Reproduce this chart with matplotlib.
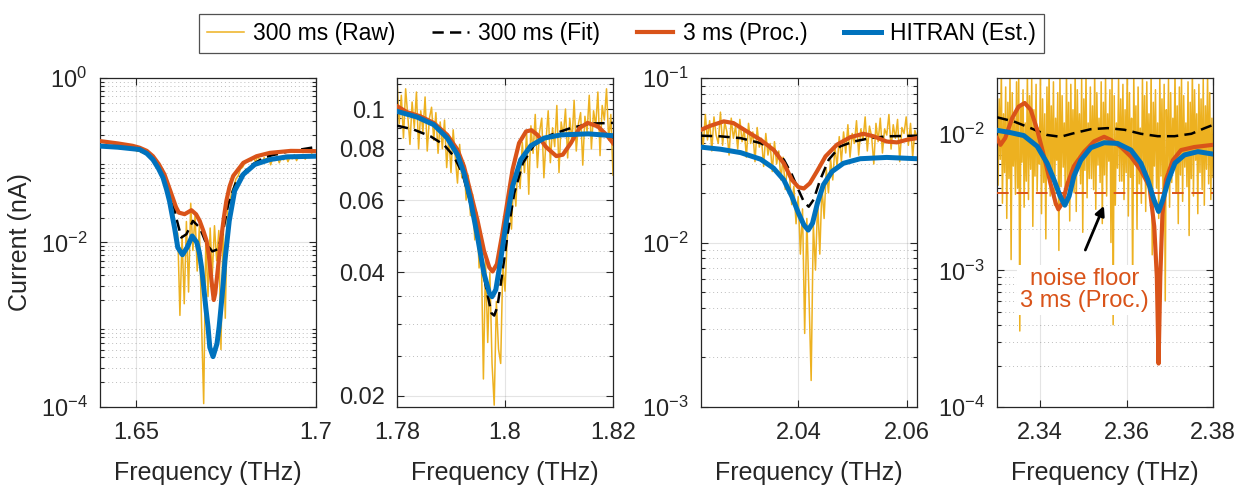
import numpy as np
import matplotlib
matplotlib.use("Agg")
import matplotlib.pyplot as plt
from matplotlib.ticker import FixedLocator, NullFormatter, FormatStrFormatter

plt.rcParams['font.family'] = ['Liberation Sans', 'DejaVu Sans']
plt.rcParams['mathtext.default'] = 'regular'

C_RAW = '#EDB120'
C_FIT = 'black'
C_PROC = '#D95319'
C_HIT = '#0072BD'
C_AX = '#262626'

# ------------------------------------------------------------------ #
# Panel 1 : 1.64 - 1.70 THz                                            #
# ------------------------------------------------------------------ #
p1_xlim = (1.64, 1.70)
p1_raw = [0.150, 0.145, 0.152, 0.143, 0.149, 0.140, 0.147, 0.144, 0.150, 0.141,
          0.146, 0.139, 0.145, 0.138, 0.143, 0.136, 0.140, 0.128, 0.136, 0.124,
          0.131, 0.118, 0.125, 0.108, 0.115, 0.098, 0.094, 0.080, 0.079, 0.062,
          0.058, 0.041, 0.038, 0.026, 0.024, 0.0145, 0.013, 0.0013, 0.012, 0.0018,
          0.018, 0.0025, 0.030, 0.008, 0.022, 0.0045, 0.016, 0.0011, 0.00011, 0.012,
          0.0022, 0.015, 0.004, 0.016, 0.006, 0.014, 0.0005, 0.018, 0.0012, 0.026,
          0.030, 0.042, 0.048, 0.060, 0.065, 0.078, 0.082, 0.092, 0.096,
          0.104, 0.098, 0.110, 0.095, 0.112, 0.100, 0.091, 0.108, 0.097, 0.114,
          0.088, 0.106, 0.099, 0.113, 0.093, 0.109, 0.101, 0.115, 0.096, 0.110,
          0.104, 0.117, 0.099, 0.112, 0.106, 0.118, 0.103, 0.114, 0.108, 0.120,
          0.110, 0.116]
p1_fit_x = [1.64, 1.6450, 1.6490, 1.6510, 1.6530, 1.6550, 1.6570, 1.6585, 1.6598, 1.6614,
            1.6626, 1.6640, 1.6658, 1.6677, 1.6696, 1.6712, 1.6728, 1.6742, 1.6756, 1.6779,
            1.6816, 1.6860, 1.6920, 1.70]
p1_fit_y = [0.148, 0.142, 0.137, 0.132, 0.120, 0.103, 0.081, 0.057, 0.0385, 0.0183,
            0.0115, 0.0126, 0.0183, 0.0152, 0.0095, 0.0078, 0.0083, 0.0138, 0.029, 0.056,
            0.085, 0.110, 0.127, 0.145]
p1_proc_x = [1.64, 1.6450, 1.6490, 1.6510, 1.6530, 1.6547, 1.6563, 1.6579, 1.6591, 1.6602,
             1.6611, 1.6619, 1.6635, 1.6654, 1.6667, 1.6677, 1.6688, 1.6696, 1.6702, 1.6707,
             1.6712, 1.6716, 1.6720, 1.6725, 1.6731, 1.6737, 1.6744, 1.6751, 1.6760, 1.6770,
             1.6798, 1.6835, 1.6872, 1.6930, 1.70]
p1_proc_y = [0.171, 0.160, 0.150, 0.142, 0.130, 0.112, 0.090, 0.0673, 0.048, 0.035,
             0.027, 0.0231, 0.0221, 0.0247, 0.022, 0.0183, 0.0135, 0.0105, 0.0072, 0.0045,
             0.0028, 0.0020, 0.0024, 0.0038, 0.0068, 0.0115, 0.020, 0.032, 0.048, 0.0644,
             0.093, 0.112, 0.123, 0.130, 0.129]
p1_hit_x = [1.64, 1.6450, 1.6490, 1.6510, 1.6530, 1.6547, 1.6562, 1.6575, 1.6585, 1.6593,
            1.6600, 1.6607, 1.6616, 1.6629, 1.6642, 1.6656, 1.6669, 1.6676, 1.6682, 1.6688,
            1.6694, 1.6700, 1.6705, 1.6714, 1.6725, 1.6731, 1.6736, 1.6742, 1.6747, 1.6759,
            1.6774, 1.6798, 1.6830, 1.6872, 1.6920, 1.70]
p1_hit_y = [0.1486, 0.144, 0.138, 0.135, 0.121, 0.102, 0.080, 0.0614, 0.044, 0.032,
            0.022, 0.0152, 0.0087, 0.0071, 0.0087, 0.0120, 0.010, 0.0075, 0.0050, 0.0029,
            0.0016, 0.00095, 0.00053, 0.00041, 0.00059, 0.00095, 0.0016, 0.0031, 0.0060, 0.0183,
            0.0425, 0.0673, 0.089, 0.102, 0.110, 0.112]

# ------------------------------------------------------------------ #
# Panel 2 : 1.78 - 1.82 THz                                            #
# ------------------------------------------------------------------ #
p2_xlim = (1.78, 1.82)
p2_raw = [0.118, 0.092, 0.108, 0.085, 0.112, 0.096, 0.082, 0.104, 0.090, 0.110,
          0.080, 0.099, 0.088, 0.107, 0.079, 0.095, 0.101, 0.084, 0.098, 0.078,
          0.093, 0.080, 0.094, 0.072, 0.086, 0.070, 0.089, 0.076, 0.066, 0.082,
          0.068, 0.074, 0.060, 0.069, 0.055, 0.062, 0.048, 0.056, 0.041, 0.046,
          0.022, 0.043, 0.027, 0.040, 0.024, 0.019, 0.034, 0.026, 0.024, 0.042,
          0.036, 0.048, 0.060, 0.051, 0.068, 0.058, 0.074, 0.064, 0.083, 0.070,
          0.088, 0.062, 0.091, 0.078, 0.097, 0.072, 0.088, 0.095, 0.068, 0.084,
          0.099, 0.074, 0.090, 0.081, 0.102, 0.070, 0.093, 0.086, 0.100, 0.076,
          0.095, 0.083, 0.105, 0.079, 0.092, 0.098, 0.073, 0.096, 0.088, 0.108,
          0.080, 0.099, 0.091, 0.110, 0.077, 0.102, 0.094, 0.112, 0.084, 0.097,
          0.069]
p2_fit_x = [1.78, 1.7831, 1.7862, 1.7887, 1.7905, 1.7921, 1.7933, 1.7946, 1.7958, 1.7967,
            1.7975, 1.7980, 1.7986, 1.7995, 1.8005, 1.8017, 1.8033, 1.8054, 1.8085, 1.8122,
            1.8160, 1.82]
p2_fit_y = [0.0911, 0.0891, 0.0858, 0.0818, 0.0768, 0.0698, 0.0612, 0.0508, 0.0411, 0.0356,
            0.0318, 0.0314, 0.0330, 0.0398, 0.0497, 0.0623, 0.0738, 0.0818, 0.0865, 0.0899,
            0.0922, 0.0925]
p2_proc_x = [1.78, 1.7819, 1.7843, 1.7868, 1.7893, 1.7912, 1.7924, 1.7936, 1.7949, 1.7961,
             1.7971, 1.7977, 1.7985, 1.7995, 1.8005, 1.8014, 1.8026, 1.8039, 1.8049, 1.8060,
             1.8076, 1.8095, 1.8107, 1.8122, 1.8138, 1.8153, 1.8172, 1.8188, 1.82]
p2_proc_y = [0.1016, 0.0982, 0.0960, 0.0925, 0.0865, 0.0796, 0.0725, 0.0628, 0.0536, 0.0452,
             0.0411, 0.0402, 0.0419, 0.0497, 0.0601, 0.0712, 0.0826, 0.0882, 0.0888, 0.0865,
             0.0808, 0.0768, 0.0774, 0.0826, 0.0899, 0.0925, 0.0907, 0.0865, 0.0826]
p2_hit_x = [1.78, 1.7837, 1.7868, 1.7893, 1.7912, 1.7924, 1.7936, 1.7949, 1.7961, 1.7971,
            1.7976, 1.7983, 1.7992, 1.8002, 1.8014, 1.8029, 1.8048, 1.8073, 1.8104, 1.8154, 1.82]
p2_hit_y = [0.0987, 0.0956, 0.0916, 0.0850, 0.0774, 0.0698, 0.0601, 0.0489, 0.0398, 0.0356,
            0.0349, 0.0363, 0.0429, 0.0527, 0.0648, 0.0752, 0.0814, 0.0850, 0.0865, 0.0870, 0.0861]

# ------------------------------------------------------------------ #
# Panel 3 : 2.022 - 2.062 THz                                          #
# ------------------------------------------------------------------ #
p3_xlim = (2.022, 2.0619)
p3_raw = [0.052, 0.038, 0.060, 0.042, 0.055, 0.036, 0.058, 0.045, 0.040, 0.062,
          0.039, 0.054, 0.047, 0.034, 0.057, 0.043, 0.051, 0.037, 0.056, 0.041,
          0.049, 0.033, 0.053, 0.040, 0.047, 0.031, 0.050, 0.038, 0.043, 0.029,
          0.046, 0.034, 0.040, 0.027, 0.041, 0.030, 0.036, 0.024, 0.033, 0.021,
          0.029, 0.025, 0.017, 0.022, 0.013, 0.019, 0.0085, 0.016, 0.0028, 0.014,
          0.0047, 0.00145, 0.013, 0.0068, 0.018, 0.0085, 0.022, 0.014, 0.028, 0.020,
          0.032, 0.024, 0.038, 0.029, 0.044, 0.031, 0.047, 0.035, 0.052, 0.033,
          0.046, 0.040, 0.055, 0.034, 0.049, 0.042, 0.058, 0.036, 0.051, 0.044,
          0.030, 0.053, 0.041, 0.057, 0.035, 0.049, 0.045, 0.060, 0.037, 0.052,
          0.043, 0.056, 0.031, 0.050, 0.046, 0.058, 0.039, 0.053, 0.033, 0.048,
          0.044]
p3_fit_x = [2.022, 2.0256, 2.0293, 2.0330, 2.0354, 2.0373, 2.0388, 2.0400, 2.0410, 2.0419,
            2.0428, 2.0440, 2.0456, 2.0477, 2.0502, 2.0533, 2.0563, 2.0619]
p3_fit_y = [0.0446, 0.0442, 0.0431, 0.0402, 0.0366, 0.0319, 0.0258, 0.0209, 0.0177, 0.0165,
            0.0182, 0.024, 0.0319, 0.0384, 0.0411, 0.0431, 0.0442, 0.0446]
p3_proc_x = [2.022, 2.0237, 2.0262, 2.0280, 2.0305, 2.0330, 2.0354, 2.0373, 2.0388, 2.0400,
             2.0410, 2.0421, 2.0434, 2.0450, 2.0471, 2.0496, 2.0520, 2.0539, 2.0563, 2.0582,
             2.0600, 2.0619]
p3_proc_y = [0.0484, 0.0512, 0.0545, 0.0532, 0.0473, 0.0421, 0.0366, 0.0303, 0.024, 0.0217,
             0.0213, 0.0229, 0.027, 0.0334, 0.0393, 0.0437, 0.0458, 0.0442, 0.0411, 0.0406,
             0.0421, 0.0431]
p3_hit_x = [2.022, 2.0256, 2.0293, 2.0330, 2.0354, 2.0373, 2.0388, 2.0400, 2.0410, 2.0418,
            2.0426, 2.0435, 2.0446, 2.0462, 2.0483, 2.0514, 2.0563, 2.0619]
p3_hit_y = [0.038, 0.0369, 0.0352, 0.0321, 0.0283, 0.024, 0.019, 0.0151, 0.0128, 0.0119,
            0.0131, 0.0173, 0.0224, 0.027, 0.0303, 0.0323, 0.0329, 0.0323]

# ------------------------------------------------------------------ #
# Panel 4 : 2.33 - 2.38 THz                                            #
# ------------------------------------------------------------------ #
p4_xlim = (2.33, 2.38)
p4_raw = [0.026, 0.0042, 0.018, 0.0065, 0.029, 0.0031, 0.014, 0.0052, 0.022, 0.0024,
          0.017, 0.0047, 0.027, 0.0012, 0.020, 0.0058, 0.013, 0.0036, 0.024, 0.0040,
          0.030, 0.00036, 0.016, 0.0062, 0.021, 0.0029, 0.012, 0.0045, 0.028, 0.0033,
          0.019, 0.0055, 0.025, 0.0021, 0.015, 0.0049, 0.023, 0.0038, 0.011, 0.0060,
          0.027, 0.0026, 0.018, 0.0044, 0.014, 0.0017, 0.022, 0.0053, 0.029, 0.0035,
          0.016, 0.0048, 0.024, 0.0030, 0.013, 0.0064, 0.020, 0.0014, 0.026, 0.0041,
          0.019, 0.0057, 0.012, 0.0032, 0.028, 0.0046, 0.017, 0.0023, 0.023, 0.0051,
          0.015, 0.0037, 0.030, 0.0027, 0.021, 0.0061, 0.014, 0.0043, 0.025, 0.0019,
          0.018, 0.0054, 0.027, 0.0034, 0.012, 0.0047, 0.022, 0.0047, 0.016, 0.0039,
          0.029, 0.0028, 0.020, 0.0059, 0.013, 0.0044, 0.024, 0.0022, 0.017, 0.0050,
          0.026, 0.0035, 0.014, 0.0063, 0.021, 0.0016, 0.028, 0.0004, 0.019, 0.0030,
          0.012, 0.0056, 0.025, 0.0045, 0.018, 0.0045, 0.023, 0.0033, 0.015, 0.0052,
          0.030, 0.0025, 0.020, 0.0048, 0.013, 0.0007, 0.027, 0.0060, 0.016, 0.0020,
          0.022, 0.0043, 0.011, 0.0031, 0.026, 0.0055, 0.019, 0.0027, 0.024, 0.0046,
          0.014, 0.0036, 0.029, 0.0013, 0.017, 0.0058, 0.021, 0.0040, 0.012, 0.0024,
          0.027, 0.0049, 0.018, 0.0034, 0.023, 0.0006, 0.015, 0.0053, 0.025, 0.0029,
          0.020, 0.0044, 0.013, 0.0061, 0.028, 0.0037, 0.016, 0.0022, 0.022, 0.0050,
          0.026, 0.0032, 0.019, 0.0057, 0.012, 0.0041, 0.024, 0.0018, 0.017, 0.0047,
          0.029, 0.0035, 0.021, 0.0064, 0.014, 0.0026, 0.023, 0.0052, 0.018, 0.0039,
          0.025, 0.0030, 0.016, 0.0055, 0.027, 0.0043, 0.020, 0.0033, 0.013, 0.0048]
p4_fit_x = [2.33, 2.3339, 2.3378, 2.3416, 2.3447, 2.3478, 2.3517, 2.3556, 2.3595, 2.3633,
            2.3672, 2.3711, 2.3750, 2.3781, 2.38]
p4_fit_y = [0.0132, 0.0123, 0.0110, 0.0098, 0.0095, 0.0101, 0.0108, 0.0110, 0.0107, 0.0100,
            0.0096, 0.0096, 0.0100, 0.0110, 0.0116]
p4_proc_x = [2.33, 2.3308, 2.3319, 2.3335, 2.3350, 2.3364, 2.3378, 2.3393, 2.3409, 2.3424,
             2.3436, 2.3442, 2.3451, 2.3463, 2.3478, 2.3502, 2.3525, 2.3548, 2.3564, 2.3587,
             2.3610, 2.3633, 2.3653, 2.3664, 2.3670, 2.3674, 2.3678, 2.3683, 2.3691, 2.3707,
             2.3726, 2.3757, 2.38]
p4_proc_y = [0.0093, 0.0083, 0.0093, 0.0130, 0.0158, 0.0168, 0.0150, 0.0107, 0.0068, 0.0043,
             0.0031, 0.0028, 0.0031, 0.0043, 0.0058, 0.0074, 0.0088, 0.0095, 0.0090, 0.0080,
             0.0068, 0.0054, 0.0041, 0.0021, 0.0009, 0.000208, 0.0009, 0.0026, 0.0046, 0.0064,
             0.0076, 0.0080, 0.0083]
p4_hit_x = [2.33, 2.3331, 2.3362, 2.3393, 2.3416, 2.3432, 2.3446, 2.3457, 2.3467, 2.3478,
            2.3494, 2.3517, 2.3548, 2.3579, 2.3610, 2.3633, 2.3649, 2.3663, 2.3674, 2.3684,
            2.3697, 2.3712, 2.3734, 2.3765, 2.38]
p4_hit_y = [0.0106, 0.0102, 0.0097, 0.0081, 0.0061, 0.0046, 0.0035, 0.0030, 0.0035, 0.0049,
            0.0064, 0.0079, 0.0086, 0.0085, 0.0076, 0.0061, 0.0046, 0.0033, 0.0027, 0.0033,
            0.0046, 0.0061, 0.0070, 0.0074, 0.0071]
p4_noise_floor = 0.0037

# axis setup per panel
panels = [
    dict(xlim=p1_xlim, ylim=(1e-4, 1.0), raw=p1_raw,
         fit=(p1_fit_x, p1_fit_y), proc=(p1_proc_x, p1_proc_y), hit=(p1_hit_x, p1_hit_y),
         xticks=[1.65, 1.70], yticks=[1e-4, 1e-2, 1e0], ymin_minor=None),
    dict(xlim=p2_xlim, ylim=(0.0188, 0.119), raw=p2_raw,
         fit=(p2_fit_x, p2_fit_y), proc=(p2_proc_x, p2_proc_y), hit=(p2_hit_x, p2_hit_y),
         xticks=[1.78, 1.80, 1.82], yticks=[0.02, 0.04, 0.06, 0.08, 0.1],
         ymin_minor=np.arange(0.02, 0.12, 0.005)),
    dict(xlim=p3_xlim, ylim=(1e-3, 1e-1), raw=p3_raw,
         fit=(p3_fit_x, p3_fit_y), proc=(p3_proc_x, p3_proc_y), hit=(p3_hit_x, p3_hit_y),
         xticks=[2.04, 2.06], yticks=[1e-3, 1e-2, 1e-1], ymin_minor=None),
    dict(xlim=p4_xlim, ylim=(1e-4, 0.0256), raw=p4_raw,
         fit=(p4_fit_x, p4_fit_y), proc=(p4_proc_x, p4_proc_y), hit=(p4_hit_x, p4_hit_y),
         xticks=[2.34, 2.36, 2.38], yticks=[1e-4, 1e-3, 1e-2], ymin_minor=None),
]

lefts = [100 / 1243, 397 / 1243, 701 / 1243, 997 / 1243]
width = 216 / 1243
bottom = 1 - 407 / 494
height = 329 / 494

fig = plt.figure(figsize=(12.43, 4.94), dpi=100)
axes = []
for p, left in zip(panels, lefts):
    ax = fig.add_axes([left, bottom, width, height])
    axes.append(ax)
    raw_x = np.linspace(p['xlim'][0], p['xlim'][1], len(p['raw']))
    h_raw, = ax.plot(raw_x, p['raw'], color=C_RAW, lw=1.1, zorder=2)
    h_fit, = ax.plot(*p['fit'], color=C_FIT, lw=1.8, ls=(0, (4.5, 2.5)), zorder=3)
    h_proc, = ax.plot(*p['proc'], color=C_PROC, lw=3.0, zorder=4,
                      solid_joinstyle='round')
    h_hit, = ax.plot(*p['hit'], color=C_HIT, lw=3.6, zorder=5,
                     solid_joinstyle='round')
    ax.set_yscale('log')
    ax.set_xlim(*p['xlim'])
    ax.set_ylim(*p['ylim'])
    ax.xaxis.set_major_locator(FixedLocator(p['xticks']))
    ax.xaxis.set_major_formatter(FormatStrFormatter('%g'))
    ax.yaxis.set_major_locator(FixedLocator(p['yticks']))
    if p['ymin_minor'] is not None:
        ax.yaxis.set_major_formatter(FormatStrFormatter('%g'))
        ax.yaxis.set_minor_locator(FixedLocator(p['ymin_minor']))
        ax.yaxis.set_minor_formatter(NullFormatter())
    ax.grid(True, which='major', axis='both', color=C_AX, alpha=0.12, lw=0.8)
    ax.grid(True, which='minor', axis='y', color=C_AX, alpha=0.3, lw=0.7, ls=(0, (1, 3)))
    ax.tick_params(which='both', direction='in', top=True, right=True,
                   colors=C_AX, labelsize=17, width=0.8)
    ax.tick_params(which='major', length=5, pad=9)
    ax.tick_params(which='minor', length=3)
    ax.tick_params(axis='x', pad=11)
    for s in ax.spines.values():
        s.set_color(C_AX)
        s.set_linewidth(0.9)
    ax.set_xlabel('Frequency (THz)', fontsize=18, color=C_AX, labelpad=12)
    ax.set_axisbelow(True)

axes[0].set_ylabel('Current (nA)', fontsize=18, color=C_AX, labelpad=6)

# noise floor annotation, last panel
ax4 = axes[3]
ax4.axhline(p4_noise_floor, color=C_PROC, lw=1.4, ls=(0, (6, 4)), zorder=3)
ax4.annotate('', xy=(2.355, 0.0031), xytext=(2.3502, 0.00135),
             arrowprops=dict(arrowstyle='-|>', color='black', lw=2,
                             mutation_scale=14), zorder=7)
ax4.text(2.3502, 0.00072, 'noise floor\n3 ms (Proc.)', color=C_PROC, fontsize=17,
         ha='center', va='center', linespacing=1.0, zorder=6,
         bbox=dict(facecolor='white', edgecolor='none', pad=2))

leg = fig.legend([h_raw, h_fit, h_proc, h_hit],
                 ['300 ms (Raw)', '300 ms (Fit)', '3 ms (Proc.)', 'HITRAN (Est.)'],
                 loc='upper center', bbox_to_anchor=(0.5, 0.995), ncol=4,
                 fontsize=16.5, frameon=True, fancybox=False, handlelength=1.6,
                 handletextpad=0.4, columnspacing=1.6, borderpad=0.35)
leg.get_frame().set_edgecolor(C_AX)
leg.get_frame().set_linewidth(0.9)
for t in leg.get_texts():
    t.set_color('black')

fig.savefig('out.png', dpi=100)
